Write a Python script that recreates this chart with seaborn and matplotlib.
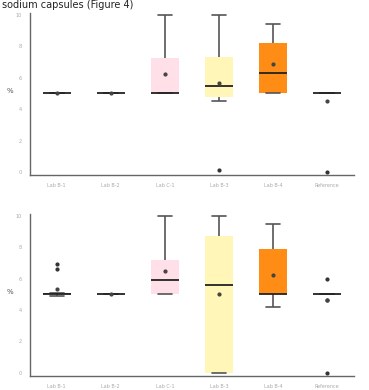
import numpy as np
import pandas as pd
import matplotlib
matplotlib.use("Agg")
import matplotlib.pyplot as plt
import seaborn as sns

groups = ["Lab B-1", "Lab B-2", "Lab C-1", "Lab B-3", "Lab B-4", "Reference"]
box_colors = ["#f4f4f4", "#f4f4f4", "#ffdfe8", "#fff6b8", "#ff8c14", "#f4f4f4"]

# top panel observations, one list per group
top_g1 = [5, 5, 5, 5, 5, 5, 5, 5]
top_g2 = [5, 5, 5, 5, 5, 5, 5, 5]
top_g3 = [5, 5, 5, 5, 5, 7, 8, 10]
top_g4 = [0.1, 4.5, 4.8, 5, 5.5, 6, 7.3, 8, 10]
top_g5 = [5, 5, 5, 6, 6.3, 8, 8.2, 9, 9.4]
top_g6 = [0, 5, 5, 5, 5, 5, 5, 5, 5, 5, 5]

# bottom panel observations
bot_g1 = [4.9, 5, 5, 5, 5, 5, 5, 5.1, 6.6, 6.9]
bot_g2 = [5, 5, 5, 5, 5, 5, 5, 5]
bot_g3 = [5, 5, 5, 5.5, 5.9, 6.5, 7.2, 8.4, 10]
bot_g4 = [0, 0, 0, 5, 5.6, 6.5, 8.7, 9.2, 10]
bot_g5 = [4.2, 4.8, 5, 5, 5, 6.5, 7.9, 8, 9.5]
bot_g6 = [0, 4.65, 5, 5, 5, 5, 5, 5, 5, 5, 5, 6]

yticks = [0, 2, 4, 6, 8, 10]


def to_frame(lists):
    rows = []
    for name, vals in zip(groups, lists):
        for v in vals:
            rows.append({"group": name, "value": v})
    return pd.DataFrame(rows)


def draw_panel(ax, df, first_color):
    pal = dict(zip(groups, [first_color] + box_colors[1:]))
    sns.boxplot(data=df, x="group", y="value", hue="group", palette=pal,
                order=groups, width=0.52, showmeans=True, legend=False,
                saturation=1, ax=ax, linewidth=1.2,
                boxprops=dict(edgecolor="none"),
                whiskerprops=dict(color="#555555"),
                capprops=dict(color="#555555"),
                medianprops=dict(color="#222222", linewidth=1.3),
                meanprops=dict(marker="o", markersize=2,
                               markerfacecolor="#444444",
                               markeredgecolor="#444444"),
                flierprops=dict(marker="o", markersize=2,
                                markerfacecolor="#333333",
                                markeredgecolor="#333333"))
    ax.set_ylim(-0.2, 10.1)
    ax.set_yticks(yticks)
    ax.set_xlabel("")
    ax.set_ylabel("%", fontsize=5, color="#555555", rotation=0)
    ax.tick_params(axis="both", labelsize=3.5, colors="#aaaaaa",
                   length=2, width=0.6)
    for s in ["top", "right"]:
        ax.spines[s].set_visible(False)
    for s in ["left", "bottom"]:
        ax.spines[s].set_color("#666666")
        ax.spines[s].set_linewidth(1.0)


sns.set_style("white")
fig = plt.figure(figsize=(3.69, 3.9), dpi=100)
ax1 = fig.add_axes([0.08, 0.551, 0.88, 0.415])
ax2 = fig.add_axes([0.08, 0.036, 0.88, 0.415])

draw_panel(ax1, to_frame([top_g1, top_g2, top_g3, top_g4, top_g5, top_g6]),
           "#f4f4f4")
draw_panel(ax2, to_frame([bot_g1, bot_g2, bot_g3, bot_g4, bot_g5, bot_g6]),
           "#7a1f3d")

fig.text(0.005, 0.999, "sodium capsules (Figure 4)", fontsize=7,
         color="#222222", ha="left", va="top")

fig.savefig("out.png", dpi=100)
